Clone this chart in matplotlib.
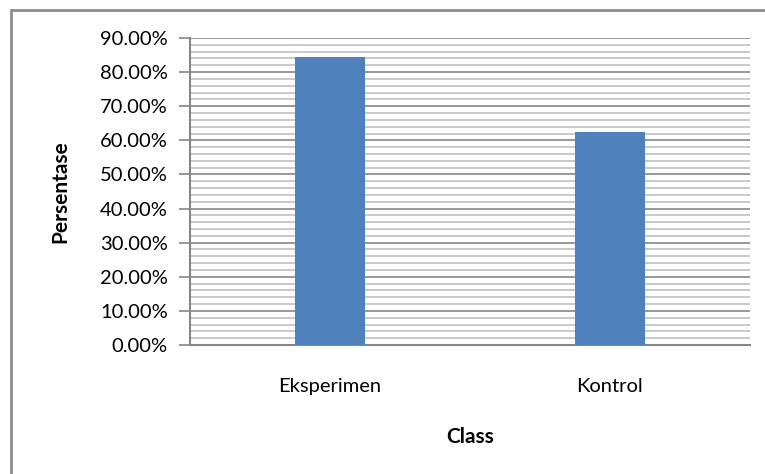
import matplotlib
matplotlib.use("Agg")
import matplotlib.pyplot as plt
from matplotlib.patches import Rectangle
from matplotlib.ticker import MultipleLocator, FuncFormatter

categories = ["Eksperimen", "Kontrol"]
values = [84.3, 62.5]

plt.rcParams['font.family'] = ['Lato', 'DejaVu Sans']

fig = plt.figure(figsize=(7.65, 4.74), dpi=100)
ax = fig.add_axes([190 / 765, 1 - 345 / 474, 560 / 765, 307 / 474])

# chart frame
fig.patches.append(Rectangle((11 / 765, -0.1), 1.2, 1 - 10 / 474 + 0.1,
                             transform=fig.transFigure, fill=False,
                             edgecolor="#8c8c8c", linewidth=2))

x = range(len(categories))
ax.bar(x, values, width=0.25, color="#4f81bd", zorder=3)

ax.set_xlim(-0.5, 1.5)
ax.set_ylim(0, 90)
ax.yaxis.set_major_locator(MultipleLocator(10))
ax.yaxis.set_minor_locator(MultipleLocator(2))
ax.yaxis.set_major_formatter(FuncFormatter(lambda v, p: f"{v:.2f}%"))
ax.grid(axis="y", which="major", color="#868686", linewidth=1.2, zorder=0)
ax.grid(axis="y", which="minor", color="#c0c0c0", linewidth=1.2, zorder=0)

ax.set_xticks(list(x))
ax.set_xticklabels(categories, fontsize=14.5)
ax.tick_params(axis="x", length=0, pad=24)
ax.tick_params(axis="y", which="major", length=8, width=1.2, color="#868686",
               labelsize=14.5, pad=8)
ax.tick_params(axis="y", which="minor", length=0)

for side in ["top", "right"]:
    ax.spines[side].set_visible(False)
for side in ["left", "bottom"]:
    ax.spines[side].set_color("#868686")
    ax.spines[side].set_linewidth(1.5)

ax.set_ylabel("Persentase", fontsize=15, fontweight="bold", labelpad=21)
ax.set_xlabel("Class", fontsize=15, fontweight="bold", labelpad=23)

fig.savefig("out.png", dpi=100)
